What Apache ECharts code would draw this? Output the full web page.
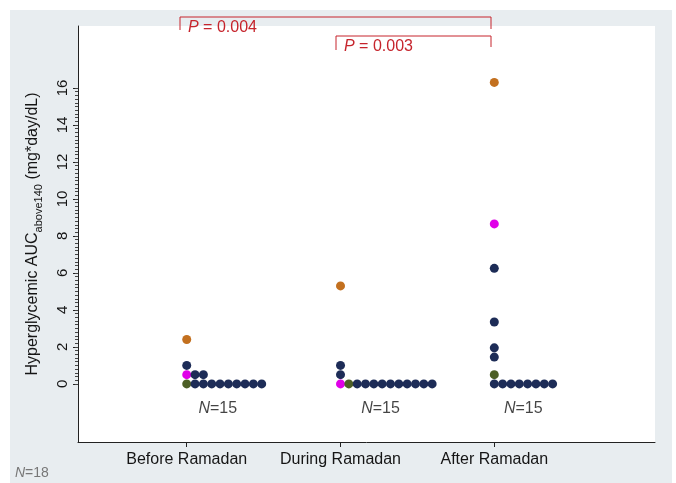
<!DOCTYPE html>
<html><head><meta charset="utf-8">
<script src="https://cdn.jsdelivr.net/npm/echarts@6/dist/echarts.min.js"></script>
<style>
html,body{margin:0;padding:0;background:#fff;}
#wrap{position:relative;width:676px;height:483px;}
#bg{position:absolute;left:10px;top:10px;width:662px;height:473px;background:#e8edf0;}
#chart{position:absolute;left:0;top:0;width:676px;height:483px;}
</style></head>
<body><div id="wrap"><div id="bg"></div><div id="chart"></div></div>
<script>
const categories = ['Before Ramadan', 'During Ramadan', 'After Ramadan'];
const beforeValues = [2.4, 1.0, 0.5, 0.5, 0.5, 0, 0, 0, 0, 0, 0, 0, 0, 0, 0];
const beforeGroups = ['o', 'n', 'm', 'n', 'n', 'g', 'n', 'n', 'n', 'n', 'n', 'n', 'n', 'n', 'n'];
const duringValues = [5.3, 1.0, 0.5, 0, 0, 0, 0, 0, 0, 0, 0, 0, 0, 0, 0];
const duringGroups = ['o', 'n', 'n', 'm', 'g', 'n', 'n', 'n', 'n', 'n', 'n', 'n', 'n', 'n', 'n'];
const afterValues = [16.3, 8.65, 6.25, 3.35, 1.95, 1.45, 0.5, 0, 0, 0, 0, 0, 0, 0, 0];
const afterGroups = ['o', 'm', 'n', 'n', 'n', 'n', 'g', 'n', 'n', 'n', 'n', 'n', 'n', 'n', 'n'];
const groupCounts = [15, 15, 15];
const totalN = 18;
const yTicks = [0, 2, 4, 6, 8, 10, 12, 14, 16];
const pLabels = ['0.004', '0.003'];

const colorMap = { n: '#1d2c57', o: '#c3701f', m: '#e000e8', g: '#4d5f26' };
const dotStep = 8.33;
const minorTicks = [];
for (let i = 0; i <= 80; i++) minorTicks.push(+(i * 0.2).toFixed(1));

function stackSeries(ci, values, groups) {
  const seen = {};
  const data = values.map((v, i) => {
    const k = seen[v] || 0; seen[v] = k + 1;
    return { value: [ci + 1, v], symbolOffset: [k * dotStep, 0], itemStyle: { color: colorMap[groups[i]], opacity: 1 } };
  });
  return { type: 'scatter', symbolSize: 9, data: data, xAxisIndex: 0, yAxisIndex: 0, z: 3, itemStyle: { opacity: 1 } };
}

const font = 'Liberation Sans, Arial, Helvetica, sans-serif';
const nOffsets = [31, 40, 29];
const txt = '#151515';

const chart = echarts.init(document.getElementById('chart'), null, { renderer: 'canvas' });
chart.setOption({
  backgroundColor: 'transparent',
  animation: false,
  textStyle: { fontFamily: font },
  grid: { left: 78, right: 21, top: 26, bottom: 41, show: true, backgroundColor: '#ffffff', borderWidth: 0 },
  xAxis: {
    type: 'value', min: 0.293, max: 4.045,
    axisLine: { show: true, onZero: false, lineStyle: { color: '#222', width: 1 } },
    axisTick: { show: true, customValues: [1, 2, 3], length: 5, lineStyle: { color: '#222' } },
    axisLabel: { customValues: [1, 2, 3], formatter: v => categories[Math.round(v) - 1], fontSize: 16, color: txt, margin: 10, fontFamily: font },
    splitLine: { show: false }
  },
  yAxis: [{
    type: 'value', min: -3.14, max: 19.35, position: 'left',
    name: '{a|Hyperglycemic AUC}{s|above140}{a| (mg*day/dL)}',
    nameLocation: 'middle', nameGap: 34, nameRotate: 90,
    nameTextStyle: { rich: {
      a: { fontSize: 16, color: txt, fontFamily: font, lineHeight: 22 },
      s: { fontSize: 11, color: txt, fontFamily: font, verticalAlign: 'bottom', lineHeight: 14 }
    } },
    axisLine: { show: true, onZero: false, lineStyle: { color: '#222', width: 1 } },
    axisTick: { show: true, customValues: yTicks, length: 5, lineStyle: { color: '#222' } },
    axisLabel: { customValues: yTicks, rotate: 90, fontSize: 15, color: txt, margin: 8, fontFamily: font },
    splitLine: { show: false }
  }, {
    type: 'value', min: -3.14, max: 19.35, position: 'left',
    axisLine: { show: false },
    axisTick: { show: true, customValues: minorTicks, length: 3, lineStyle: { color: '#444' } },
    axisLabel: { show: false },
    splitLine: { show: false }
  }],
  series: [
    stackSeries(0, beforeValues, beforeGroups),
    stackSeries(1, duringValues, duringGroups),
    stackSeries(2, afterValues, afterGroups),
    {
      type: 'scatter', symbolSize: 0, silent: true,
      data: groupCounts.map((n, i) => ({
        value: [i + 1, -1.3],
        label: { show: true, offset: [nOffsets[i], 1], formatter: '{i|N}{t|=' + n + '}', rich: {
          i: { fontStyle: 'italic', fontSize: 16, color: txt, fontFamily: font },
          t: { fontSize: 16, color: txt, fontFamily: font } } }
      })),
      label: { position: 'inside' }
    }
  ],
  graphic: [
    { type: 'polyline', shape: { points: [[180, 30], [180, 17], [491, 17], [491, 29]] }, style: { stroke: '#c6242c', lineWidth: 1, fill: null } },
    { type: 'polyline', shape: { points: [[336, 50], [336, 36], [491, 36], [491, 47]] }, style: { stroke: '#c6242c', lineWidth: 1, fill: null } },
    { type: 'text', x: 188, y: 28, style: { text: '{i|P}{t| = ' + pLabels[0] + '}', verticalAlign: 'middle', rich: {
      i: { fontStyle: 'italic', fontSize: 16, fill: '#c6242c', fontFamily: font },
      t: { fontSize: 16, fill: '#c6242c', fontFamily: font } } } },
    { type: 'text', x: 344, y: 47, style: { text: '{i|P}{t| = ' + pLabels[1] + '}', verticalAlign: 'middle', rich: {
      i: { fontStyle: 'italic', fontSize: 16, fill: '#c6242c', fontFamily: font },
      t: { fontSize: 16, fill: '#c6242c', fontFamily: font } } } },
    { type: 'text', x: 15, y: 473, style: { text: '{i|N}{t|=' + totalN + '}', verticalAlign: 'middle', rich: {
      i: { fontStyle: 'italic', fontSize: 14, fill: '#777', fontFamily: font },
      t: { fontSize: 14, fill: '#777', fontFamily: font } } } }
  ]
});
</script></body></html>
